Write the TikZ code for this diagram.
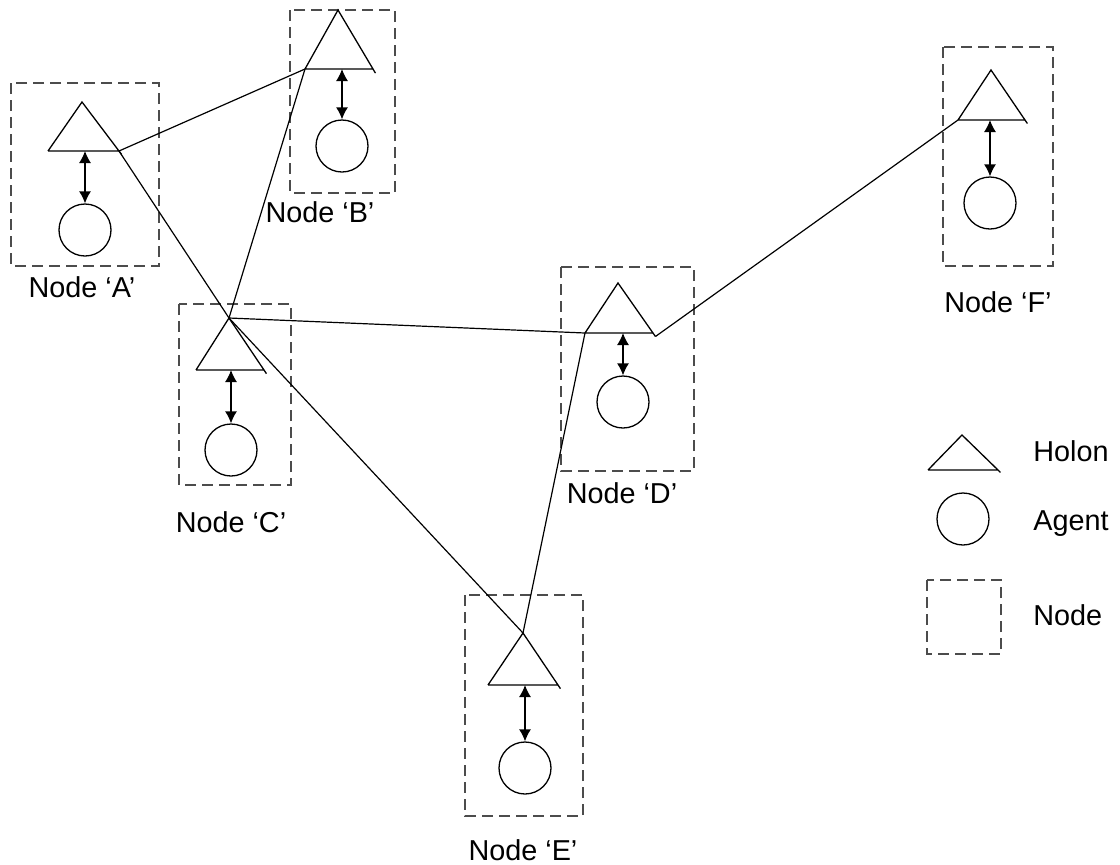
\documentclass[tikz,border=0pt]{standalone}
\usepackage{fontspec}
\setmainfont{Liberation Sans}
\usepackage{tikz}
\usetikzlibrary{arrows.meta, calc, positioning}

\tikzset{
  holon/.style={line width=0.65pt},
  agent/.style={circle, draw, line width=0.65pt, minimum size=26pt, inner sep=0pt},
  nodebox/.style={draw=black!70, line width=0.8pt, dash pattern=on 5.5pt off 3pt},
  link/.style={line width=0.6pt},
  bond/.style={{Latex[length=6pt,width=6pt]}-{Latex[length=6pt,width=6pt]}, line width=0.65pt},
  lbl/.style={font=\fontsize{14.4}{17}\selectfont, inner sep=0pt}
}

\begin{document}
\begin{tikzpicture}[x=0.5pt, y=-0.5pt]
\useasboundingbox (0,0) rectangle (1120,864);

%% dashed boxes
\draw[nodebox] (11,83) rectangle (159,266);
\draw[nodebox] (290,10) rectangle (395,193);
\draw[nodebox] (179,304) rectangle (291,485);
\draw[nodebox] (561,267) rectangle (694,471);
\draw[nodebox] (465,595) rectangle (583,816);
\draw[nodebox] (943,47) rectangle (1053,266);

%% triangle corners: t = apex, l/r = base, x = tip of the right side
\coordinate (At) at (82,102);   \coordinate (Al) at (48,151);  \coordinate (Ar) at (119,151);
\coordinate (Bt) at (338,10);   \coordinate (Bl) at (305,69);  \coordinate (Br) at (373,69);
\coordinate (Ct) at (229,318);  \coordinate (Cl) at (196,370); \coordinate (Cr) at (264,370);
\coordinate (Dt) at (618,283);  \coordinate (Dl) at (585,333); \coordinate (Dr) at (653,333);
\coordinate (Et) at (523,633);  \coordinate (El) at (488,685); \coordinate (Er) at (558,685);
\coordinate (Ft) at (991,70);   \coordinate (Fl) at (958,120); \coordinate (Fr) at (1025,120);
\coordinate (Lt) at (962,435);  \coordinate (Ll) at (928,470); \coordinate (Lr) at (998,470);
\coordinate (Ax) at ($(At)!1.07!(Ar)$);
\coordinate (Bx) at ($(Bt)!1.07!(Br)$);
\coordinate (Cx) at ($(Ct)!1.07!(Cr)$);
\coordinate (Dx) at ($(Dt)!1.07!(Dr)$);
\coordinate (Ex) at ($(Et)!1.07!(Er)$);
\coordinate (Fx) at ($(Ft)!1.07!(Fr)$);
\coordinate (Lx) at ($(Lt)!1.07!(Lr)$);

\draw[holon] (Al) -- (Ar) (Al) -- (At) -- (Ax);
\draw[holon] (Bl) -- (Br) (Bl) -- (Bt) -- (Bx);
\draw[holon] (Cl) -- (Cr) (Cl) -- (Ct) -- (Cx);
\draw[holon] (Dl) -- (Dr) (Dl) -- (Dt) -- (Dx);
\draw[holon] (El) -- (Er) (El) -- (Et) -- (Ex);
\draw[holon] (Fl) -- (Fr) (Fl) -- (Ft) -- (Fx);
\draw[holon] (Ll) -- (Lr) (Ll) -- (Lt) -- (Lx);

%% agents
\node[agent] (Aa) at (85,230) {};
\node[agent] (Ba) at (342,146) {};
\node[agent] (Ca) at (231,450) {};
\node[agent] (Da) at (623,402) {};
\node[agent] (Ea) at (525,768) {};
\node[agent] (Fa) at (990,203) {};
\node[agent] (La) at (963,519) {};

\draw[bond] (Aa.north |- Al) -- (Aa.north);
\draw[bond] (Ba.north |- Bl) -- (Ba.north);
\draw[bond] (Ca.north |- Cl) -- (Ca.north);
\draw[bond] (Da.north |- Dl) -- (Da.north);
\draw[bond] (Ea.north |- El) -- (Ea.north);
\draw[bond] (Fa.north |- Fl) -- (Fa.north);

%% links between holons
\draw[link] (Ar) -- (Bl);
\draw[link] (Ar) -- (Ct);
\draw[link] (Bl) -- (Ct);
\draw[link] (Ct) -- (Dl);
\draw[link] (Ct) -- (Et);
\draw[link] (Dl) -- (Et);
\draw[link] (Dx) -- (Fl);

\node[lbl] (An) at (82,287) {Node ‘A’};
\node[lbl] (Bn) at (320,212) {Node ‘B’};
\node[lbl] (Cn) at (231,522) {Node ‘C’};
\node[lbl] (Dn) at (622,493) {Node ‘D’};
\node[lbl] (En) at (523,850) {Node ‘E’};
\node[lbl] (Fn) at (998,302) {Node ‘F’};

%% key
\draw[nodebox] (927,580) rectangle (1001,654);
\node[lbl, anchor=west] (holonkey) at (1033,451) {Holon};
\node[lbl, anchor=west] (agentkey) at (1033,524) {Agent};
\node[lbl, anchor=west] (nodekey) at (1033,615) {Node};
\end{tikzpicture}
\end{document}
